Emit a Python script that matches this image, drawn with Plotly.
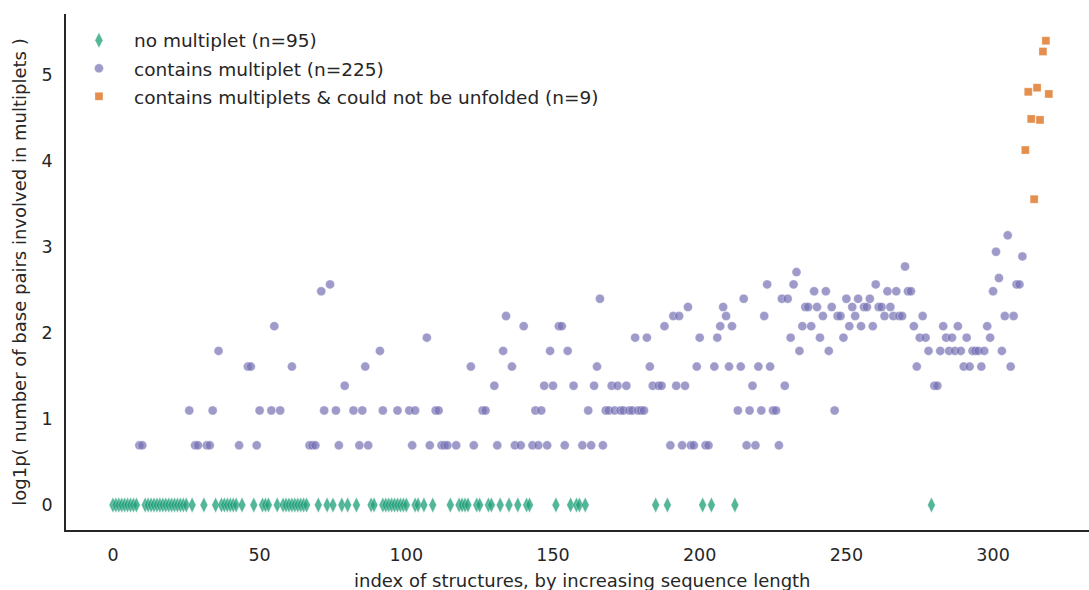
import numpy as np
import plotly.graph_objects as go

# ---- data ----
green_index = [0, 1, 2, 3, 4, 5, 6, 7, 8, 11, 12, 13, 14, 15, 16, 17, 18, 19, 20, 21, 22, 23, 24, 25,
               27, 31, 35, 37, 38, 39, 40, 41, 42, 44, 48, 51, 52, 53, 56, 58, 59, 60, 61, 62, 63, 64, 65, 66,
               70, 73, 75, 78, 80, 83, 88, 89, 92, 93, 94, 95, 96, 97, 98, 99, 100, 103, 104, 106, 109, 115,
               118, 119, 120, 121, 124, 125, 128, 129, 132, 135, 138, 141, 142, 151, 156, 158, 159, 161,
               185, 189, 201, 204, 212, 279]
green_bp = [0] * len(green_index)

purple_index = [9, 10, 26, 28, 29, 32, 33, 34, 36, 43, 46, 47, 49, 50, 54, 55, 57, 61, 67, 68, 69, 71, 72, 74,
                76, 77, 79, 82, 84, 85, 86, 87, 91, 92, 97, 101, 102, 103, 107, 108, 110, 111, 112, 113, 114,
                117, 122, 123, 126, 127, 130, 131, 133, 134, 136, 137, 139, 140, 143, 144, 145, 146, 147, 148,
                149, 150, 152, 153, 154, 155, 157, 160, 162, 163, 164, 165, 166, 167, 168, 169, 170, 171, 172,
                173, 174, 175, 176, 177, 178, 179, 180, 181, 182, 183, 184, 186, 187, 188, 190, 191, 192, 193,
                194, 195, 196, 197, 198, 199, 200, 202, 203, 205, 206, 207, 208, 209, 210, 211, 213, 214, 215,
                216, 217, 218, 219, 220, 221, 222, 223, 224, 225, 226, 227, 228, 229, 230, 231, 232, 233, 234,
                235, 236, 237, 238, 239, 240, 241, 242, 243, 244, 245, 246, 247, 248, 249, 250, 251, 252, 253,
                254, 255, 256, 257, 258, 259, 260, 261, 262, 263, 264, 265, 266, 267, 268, 269, 270, 271, 272,
                273, 274, 275, 276, 277, 278, 280, 281, 282, 283, 284, 285, 286, 287, 288, 289, 290, 291, 292,
                293, 294, 295, 296, 297, 298, 299, 300, 301, 302, 303, 304, 305, 306, 307, 308, 309, 310]
purple_bp = [1, 1, 2, 1, 1, 1, 1, 2, 5, 1, 4, 4, 1, 2, 2, 7, 2, 4, 1, 1, 1, 11, 2, 12,
             2, 1, 3, 2, 1, 2, 4, 1, 5, 2, 2, 2, 1, 2, 6, 1, 2, 2, 1, 1, 1,
             1, 4, 1, 2, 2, 3, 1, 5, 8, 4, 1, 1, 7, 1, 2, 1, 2, 3, 1,
             5, 3, 7, 7, 1, 5, 3, 1, 2, 1, 3, 4, 10, 1, 2, 2, 3, 2, 3,
             2, 2, 3, 2, 2, 6, 2, 2, 2, 6, 4, 3, 3, 3, 7, 1, 8, 3, 8,
             1, 3, 9, 1, 1, 4, 6, 1, 1, 4, 6, 7, 9, 8, 4, 7, 2, 4, 10,
             1, 2, 3, 1, 4, 2, 8, 12, 4, 2, 2, 1, 10, 3, 10, 6, 12, 14, 5,
             7, 9, 9, 7, 11, 9, 6, 8, 11, 5, 9, 2, 8, 8, 6, 10, 7, 9, 8,
             10, 7, 9, 9, 10, 7, 12, 9, 9, 8, 11, 9, 8, 11, 8, 8, 15, 11, 11,
             7, 4, 6, 8, 6, 5, 3, 3, 5, 7, 6, 5, 6, 5, 7, 5, 4, 6, 4,
             5, 5, 5, 4, 5, 7, 6, 11, 18, 13, 5, 8, 22, 4, 8, 12, 12, 17]

orange_index = [311, 312, 313, 314, 315, 316, 317, 318, 319]
orange_bp = [61, 121, 88, 34, 127, 87, 194, 220, 118]

x_ticks = [0, 50, 100, 150, 200, 250, 300]
y_ticks = [0, 1, 2, 3, 4, 5]

labels = ["no multiplet (n=95)", "contains multiplet (n=225)",
          "contains multiplets & could not be unfolded (n=9)"]

FONT = "DejaVu Sans"
TXT = "#262626"

fig = go.Figure()
fig.add_trace(go.Scatter(
    x=green_index, y=np.log1p(green_bp), mode="markers", name=labels[0], legendgroup="g",
    marker=dict(symbol="diamond-tall", size=11, color="rgba(27,158,119,0.75)",
                line=dict(width=0.5, color="rgba(255,255,255,0.6)"))))
fig.add_trace(go.Scatter(
    x=purple_index, y=np.log1p(purple_bp), mode="markers", name=labels[1], legendgroup="p",
    marker=dict(symbol="circle", size=9, color="rgba(117,112,179,0.7)",
                line=dict(width=0.5, color="rgba(255,255,255,0.6)"))))
fig.add_trace(go.Scatter(
    x=orange_index, y=np.log1p(orange_bp), mode="markers", name=labels[2], legendgroup="o",
    marker=dict(symbol="square", size=8, color="rgba(217,95,2,0.7)",
                line=dict(width=0.5, color="rgba(255,255,255,0.6)"))))

fig.update_layout(
    width=1089, height=590,
    margin=dict(l=66, r=0, t=14, b=60),
    paper_bgcolor="white", plot_bgcolor="white",
    font=dict(family=FONT, color=TXT, size=17),
    showlegend=True,
    legend=dict(x=-0.002, y=0.985, xanchor="left", yanchor="top",
                bgcolor="rgba(0,0,0,0)", font=dict(size=18.5, family=FONT, color=TXT),
                itemsizing="trace", itemwidth=60, tracegroupgap=1),
    xaxis=dict(range=[-16.0, 332.7], tickmode="array", tickvals=x_ticks,
               showgrid=False, zeroline=False, showline=True, linecolor=TXT, linewidth=1.5,
               ticks="outside", ticklen=8, tickcolor="rgba(0,0,0,0)",
               tickfont=dict(size=17.5, family=FONT, color=TXT)),
    yaxis=dict(range=[-0.291, 5.709], tickmode="array", tickvals=y_ticks,
               showgrid=False, zeroline=False, showline=True, linecolor=TXT, linewidth=1.5,
               ticks="outside", ticklen=8, tickcolor="rgba(0,0,0,0)",
               tickfont=dict(size=17.5, family=FONT, color=TXT),
               title=dict(text="log1p( number of base pairs involved in multiplets )",
                          font=dict(size=18, family=FONT, color=TXT), standoff=10)),
    annotations=[dict(text="index of structures, by increasing sequence length",
                      xref="paper", yref="paper", x=0.5, y=0, xanchor="center", yanchor="top",
                      xshift=5, yshift=-38, showarrow=False,
                      font=dict(size=18, family=FONT, color=TXT))],
)

fig.write_html("out.html")
